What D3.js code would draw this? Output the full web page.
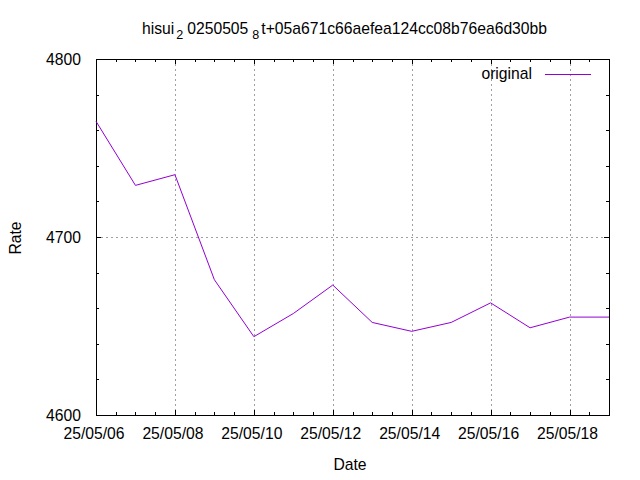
<!DOCTYPE html>
<html><head><meta charset="utf-8">
<script src="https://cdn.jsdelivr.net/npm/d3@7"></script>
<style>body{margin:0;background:#fff}svg{display:block}text{font-family:"Liberation Sans",Arial,sans-serif;}</style>
</head><body><svg id="c" width="640" height="480"></svg>
<script>
const dates = ["25/05/06","25/05/07","25/05/08","25/05/09","25/05/10","25/05/11","25/05/12","25/05/13","25/05/14","25/05/15","25/05/16","25/05/17","25/05/18","25/05/19"];
const rates = [4765,4729,4735,4676,4644,4657,4673,4652,4647,4652,4663,4649,4655,4655];
const xTickLabels = ["25/05/06","25/05/08","25/05/10","25/05/12","25/05/14","25/05/16","25/05/18"];
const yTickValues = [4600,4700,4800];
const seriesName = "original";

const parse = d3.timeParse("%y/%m/%d");
const data = dates.map((d,i)=>({date:parse(d), v:rates[i]}));

const svg = d3.select("#c");
const L=96, R=609, T=59, B=415;
const x = d3.scaleTime().domain([parse("25/05/06"), parse("25/05/19")]).range([L,R]);
const y = d3.scaleLinear().domain([4600,4800]).range([B,T]);
const fs = 15.7;

// grid
const g = svg.append("g").attr("stroke","#a0a0a0").attr("stroke-width",1).attr("stroke-dasharray","2,3").attr("shape-rendering","crispEdges");
xTickLabels.map(parse).forEach(d=>{
  const px=Math.round(x(d))+0.5;
  if (px>L+1 && px<R-1) g.append("line").attr("x1",px).attr("x2",px).attr("y1",T).attr("y2",B);
});
yTickValues.forEach(v=>{
  const py=Math.round(y(v))+0.5;
  if (py>T+1 && py<B-1) g.append("line").attr("x1",L).attr("x2",R).attr("y1",py).attr("y2",py);
});

// ticks
const tk = svg.append("g").attr("stroke","#000").attr("stroke-width",1).attr("shape-rendering","crispEdges");
const minorX = d3.timeHour.every(12).range(x.domain()[0], new Date(+x.domain()[1]+1));
minorX.forEach(d=>{
  const px=Math.round(x(d))+0.5;
  tk.append("line").attr("x1",px).attr("x2",px).attr("y1",B).attr("y2",B-3);
  tk.append("line").attr("x1",px).attr("x2",px).attr("y1",T).attr("y2",T+3);
});
xTickLabels.map(parse).forEach(d=>{
  const px=Math.round(x(d))+0.5;
  tk.append("line").attr("x1",px).attr("x2",px).attr("y1",B).attr("y2",B-5);
  tk.append("line").attr("x1",px).attr("x2",px).attr("y1",T).attr("y2",T+5);
});
d3.range(4600,4801,20).forEach(v=>{
  const py=Math.round(y(v))+0.5;
  tk.append("line").attr("x1",L).attr("x2",L+3).attr("y1",py).attr("y2",py);
  tk.append("line").attr("x1",R).attr("x2",R-3).attr("y1",py).attr("y2",py);
});
yTickValues.forEach(v=>{
  const py=Math.round(y(v))+0.5;
  tk.append("line").attr("x1",L).attr("x2",L+5).attr("y1",py).attr("y2",py);
  tk.append("line").attr("x1",R).attr("x2",R-5).attr("y1",py).attr("y2",py);
});

// border
svg.append("rect").attr("x",L+0.5).attr("y",T+0.5).attr("width",R-L).attr("height",B-T)
  .attr("fill","none").attr("stroke","#000").attr("stroke-width",1).attr("shape-rendering","crispEdges");

// tick labels
xTickLabels.forEach(t=>{
  svg.append("text").attr("x",x(parse(t))-2).attr("y",439).attr("text-anchor","middle").attr("font-size",fs).text(t);
});
yTickValues.forEach(v=>{
  svg.append("text").attr("x",81).attr("y",y(v)+5.5).attr("text-anchor","end").attr("font-size",fs).text(v);
});

// axis labels
svg.append("text").attr("x",350).attr("y",470).attr("text-anchor","middle").attr("font-size",fs).text("Date");
svg.append("text").attr("transform","translate(21,238) rotate(-90)").attr("text-anchor","middle").attr("font-size",fs).text("Rate");

// title
const title = svg.append("text").attr("x",142).attr("y",34).attr("font-size",fs);
title.append("tspan").text("hisui");
title.append("tspan").attr("dx",2).attr("dy",5).attr("font-size",fs*0.8).text("2");
title.append("tspan").attr("dx",4).attr("dy",-5).text("0250505");
title.append("tspan").attr("dx",4).attr("dy",5).attr("font-size",fs*0.8).text("8");
title.append("tspan").attr("dx",2).attr("dy",-5).text("t+05a671c66aefea124cc08b76ea6d30bb");

// line
const line = d3.line().x(d=>x(d.date)).y(d=>y(d.v));
svg.append("path").datum(data).attr("d",line).attr("fill","none").attr("stroke","#9400d3").attr("stroke-width",1);

// legend
svg.append("text").attr("x",532).attr("y",79).attr("text-anchor","end").attr("font-size",fs).text(seriesName);
svg.append("line").attr("x1",545).attr("x2",591).attr("y1",74.5).attr("y2",74.5).attr("stroke","#9400d3").attr("stroke-width",1);
</script></body></html>
